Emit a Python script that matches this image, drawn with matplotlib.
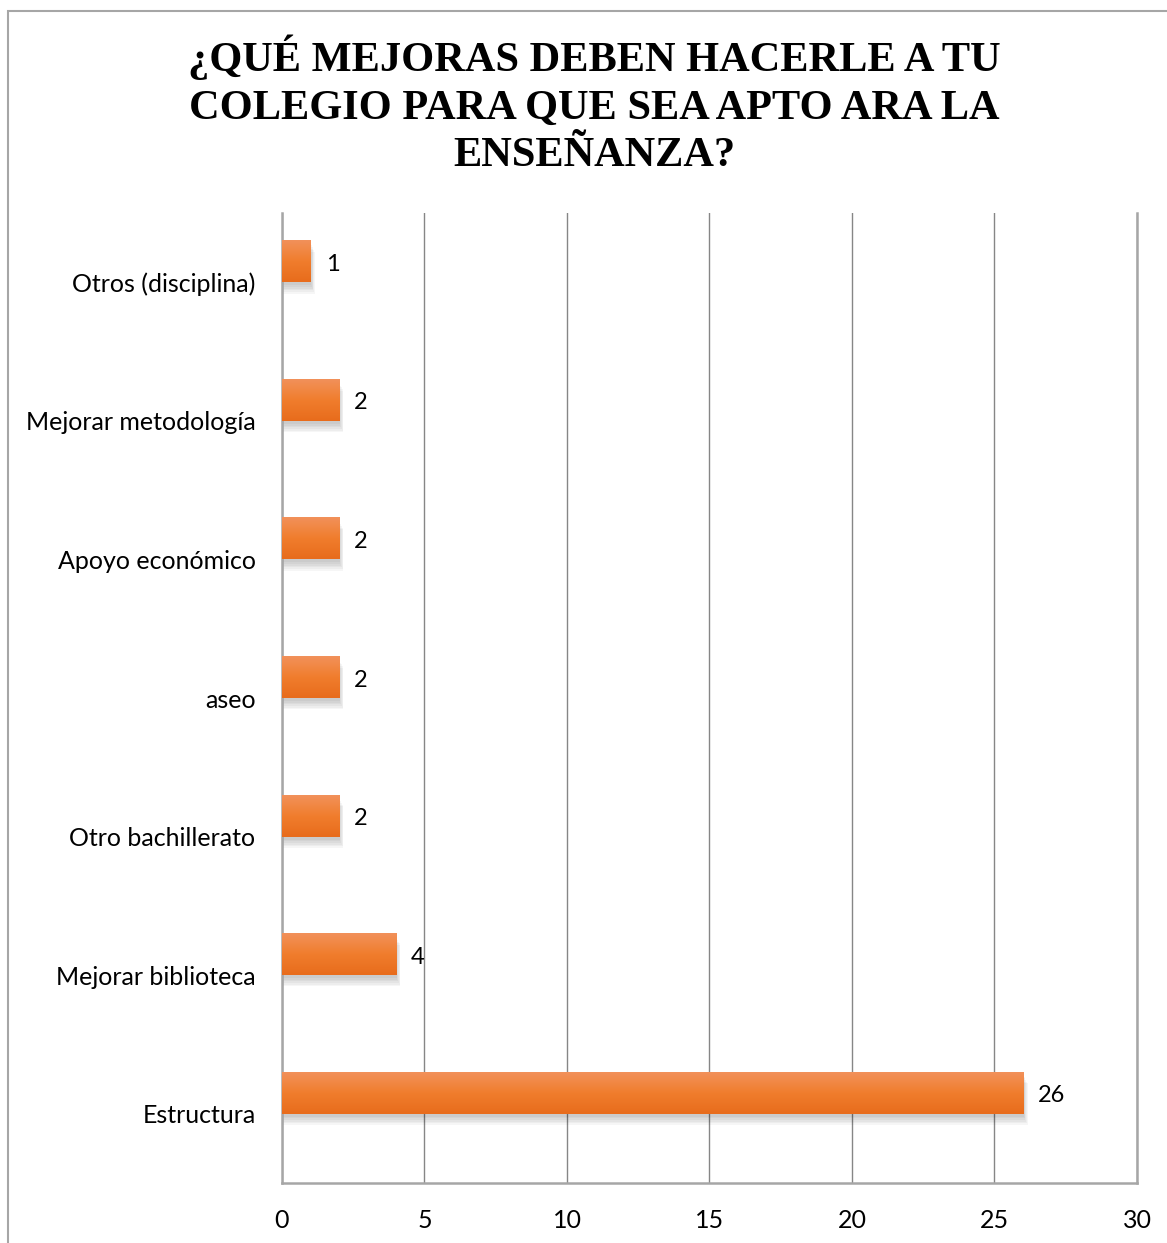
import numpy as np
import matplotlib.pyplot as plt
from matplotlib.patches import Rectangle

# --- Datos de la encuesta ---
categorias = ["Estructura", "Mejorar biblioteca", "Otro bachillerato", "aseo",
              "Apoyo económico", "Mejorar metodología", "Otros (disciplina)"]
respuestas = [26, 4, 2, 2, 2, 2, 1]
x_ticks = [0, 5, 10, 15, 20, 25, 30]

titulo = "¿QUÉ MEJORAS DEBEN HACERLE A TU\nCOLEGIO PARA QUE SEA APTO ARA LA\nENSEÑANZA?"

plt.rcParams['font.family'] = ['Lato', 'DejaVu Sans']

fig = plt.figure(figsize=(11.67, 12.43), dpi=100)
ax = fig.add_axes([0.2416, 0.0483, 0.7327, 0.7803])

# marco exterior del grafico
fig.patches.append(Rectangle((8 / 1167, -0.05), 1.2, 1 - 11 / 1243 + 0.05,
                             transform=fig.transFigure, fill=False,
                             edgecolor='#A6A6A6', linewidth=1.5, zorder=0))

alto = 0.3
y = np.arange(len(categorias))
bars = ax.barh(y, respuestas, height=alto, align='edge', color='none', zorder=3)

# degradado naranja + sombra suave de cada barra
grad = np.linspace(0, 1, 64).reshape(-1, 1)
cmap = plt.matplotlib.colors.LinearSegmentedColormap.from_list(
    'naranja', ['#E86C1C', '#F07D2D', '#F2915A'])
for b in bars:
    x0, y0, w, h = b.get_x(), b.get_y(), b.get_width(), b.get_height()
    for k in range(6):
        d = 0.012 * (6 - k)
        ax.add_patch(Rectangle((x0, y0 - d - 0.01), w + d * 2.2, h,
                               facecolor='black', alpha=0.035, edgecolor='none',
                               zorder=2))
    ax.imshow(grad, cmap=cmap, aspect='auto', extent=(x0, x0 + w, y0, y0 + h),
              origin='lower', zorder=4)

for yi, v in zip(y, respuestas):
    ax.annotate(str(v), (v, yi + alto / 2), xytext=(11, -2),
                textcoords='offset points', va='center', ha='left',
                fontsize=17, color='black')

ax.set_xlim(0, 30)
ax.set_ylim(-0.5, len(categorias) - 0.5)
ax.set_xticks(x_ticks)
ax.set_yticks(y)
ax.set_yticklabels(categorias)
ax.tick_params(axis='both', length=0, labelsize=18)
ax.tick_params(axis='y', pad=19)
ax.tick_params(axis='x', pad=19)

ax.grid(axis='x', color='#868686', linewidth=1, zorder=1)
ax.set_axisbelow(True)
ax.spines['top'].set_visible(False)
for s in ['left', 'bottom', 'right']:
    ax.spines[s].set_color('#A6A6A6')
    ax.spines[s].set_linewidth(1.8)

fig.text(0.509, 0.972, titulo, ha='center', va='top', fontsize=30.5,
         fontweight='bold', family='Liberation Serif', linespacing=1.32)

fig.savefig('out.png', dpi=100)
